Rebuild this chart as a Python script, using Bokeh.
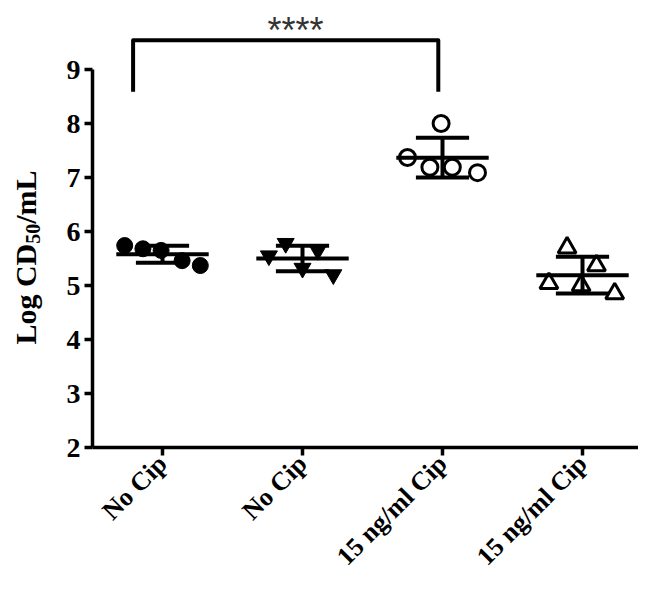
import math
import numpy as np
from bokeh.plotting import figure
from bokeh.models import FixedTicker, Label, Range1d, ColumnDataSource
from bokeh.embed import file_html
from bokeh.resources import INLINE

# ---------------- data ----------------
groups = ["No Cip", "No Cip", "15 ng/ml Cip", "15 ng/ml Cip"]
g1_vals = [5.74, 5.68, 5.65, 5.46, 5.37]
g2_vals = [5.55, 5.78, 5.32, 5.65, 5.20]
g3_vals = [7.37, 7.19, 8.00, 7.19, 7.09]
g4_vals = [5.04, 5.70, 5.00, 5.37, 4.85]
g1_jit = [-0.27, -0.14, -0.01, 0.14, 0.27]
g2_jit = [-0.24, -0.12, 0.00, 0.11, 0.22]
g3_jit = [-0.25, -0.09, -0.01, 0.07, 0.25]
g4_jit = [-0.24, -0.11, -0.01, 0.10, 0.23]
y_ticks = [2, 3, 4, 5, 6, 7, 8, 9]
bracket_x = [0.29, 2.47]
bracket_y = [8.59, 9.54]
sig_label = "****"

FONT = "Liberation Serif"
W, H = 638, 579
PX_X, PX_Y = 140.0, 54.0          # pixels per data unit
AX_LEFT_PX, AX_TOP_PX = 92, 69    # where x=0 and y=9 sit, in figure px
X0 = -AX_LEFT_PX / PX_X
X1 = X0 + W / PX_X
Y1 = 9 + AX_TOP_PX / PX_Y
Y0 = Y1 - H / PX_Y

p = figure(width=W, height=H, x_range=Range1d(X0, X1), y_range=Range1d(Y0, Y1),
           output_backend="svg", toolbar_location=None, min_border=0)
p.grid.visible = False
p.outline_line_color = None
p.background_fill_color = "white"

centers = [i + 0.5 for i in range(len(groups))]
p.xaxis.ticker = FixedTicker(ticks=centers)
p.xaxis.major_label_overrides = {c: g for c, g in zip(centers, groups)}
p.xaxis.major_label_orientation = math.pi / 4
p.xaxis.fixed_location = min(y_ticks)
p.xaxis.bounds = (0, X1)
p.yaxis.ticker = FixedTicker(ticks=y_ticks)
p.yaxis.fixed_location = 0
p.yaxis.bounds = (min(y_ticks), max(y_ticks))
for ax in (p.xaxis, p.yaxis):
    ax.axis_line_width = 3.5
    ax.axis_line_color = "black"
    ax.major_tick_line_width = 3.5
    ax.major_tick_line_color = "black"
    ax.major_tick_out = 8
    ax.major_tick_in = 0
    ax.minor_tick_line_color = None
    ax.major_label_text_font = FONT
    ax.major_label_text_font_style = "bold"
    ax.major_label_text_color = "black"
p.yaxis.major_label_text_font_size = "28px"
p.xaxis.major_label_text_font_size = "26px"
p.yaxis.major_label_standoff = 4
p.xaxis.major_label_standoff = 4

vals = [g1_vals, g2_vals, g3_vals, g4_vals]
jits = [g1_jit, g2_jit, g3_jit, g4_jit]
styles = [
    dict(marker="circle", size=16, fill_color="black", line_color="black", line_width=1),
    dict(marker="inverted_triangle", size=17, fill_color="black", line_color="black", line_width=1),
    dict(marker="circle", size=16, fill_color="white", line_color="black", line_width=3),
    dict(marker="triangle", size=18, fill_color="white", line_color="black", line_width=3),
]

for c, v, j, st in zip(centers, vals, jits, styles):
    src = ColumnDataSource(dict(x=[c + d for d in j], y=v))
    p.scatter("x", "y", source=src, **st)

for c, v in zip(centers, vals):
    m = float(np.mean(v))
    s = float(np.std(v, ddof=1))
    p.segment(x0=[c - 0.33, c, c - 0.19, c - 0.19], y0=[m, m - s, m + s, m - s],
              x1=[c + 0.33, c, c + 0.19, c + 0.19], y1=[m, m + s, m + s, m - s],
              line_color="black", line_width=4)

# significance bracket
p.line([bracket_x[0], bracket_x[0], bracket_x[1], bracket_x[1]],
       [bracket_y[0], bracket_y[1], bracket_y[1], bracket_y[0]],
       line_color="black", line_width=4, line_join="round")
p.add_layout(Label(x=1.45, y=bracket_y[1] + 0.18, text=sig_label, text_align="center",
                   text_baseline="alphabetic", text_font="Liberation Sans",
                   text_font_size="36px", text_color="#333333"))

# y axis title "Log CD50/mL" built from pieces (vertical, reading upwards)
s_main, s_sub = 30, 20
w1 = 3.361 * s_main
w2 = 1.0 * s_sub
w3 = 1.778 * s_main
def ydata(py):
    return 9 - (py - AX_TOP_PX) / PX_Y
x_title = (25 - AX_LEFT_PX) / PX_X
start = 257 + (w1 + w2 + w3) / 2
common = dict(angle=math.pi / 2, text_align="left", text_baseline="middle",
              text_font=FONT, text_font_style="bold", text_color="black")
p.add_layout(Label(x=x_title, y=ydata(start), text="Log CD",
                   text_font_size=f"{s_main}px", **common))
p.add_layout(Label(x=x_title + 7 / PX_X, y=ydata(start - w1), text="50",
                   text_font_size=f"{s_sub}px", **common))
p.add_layout(Label(x=x_title, y=ydata(start - w1 - w2), text="/mL",
                   text_font_size=f"{s_main}px", **common))

open("out.html", "w").write(file_html(p, INLINE))
